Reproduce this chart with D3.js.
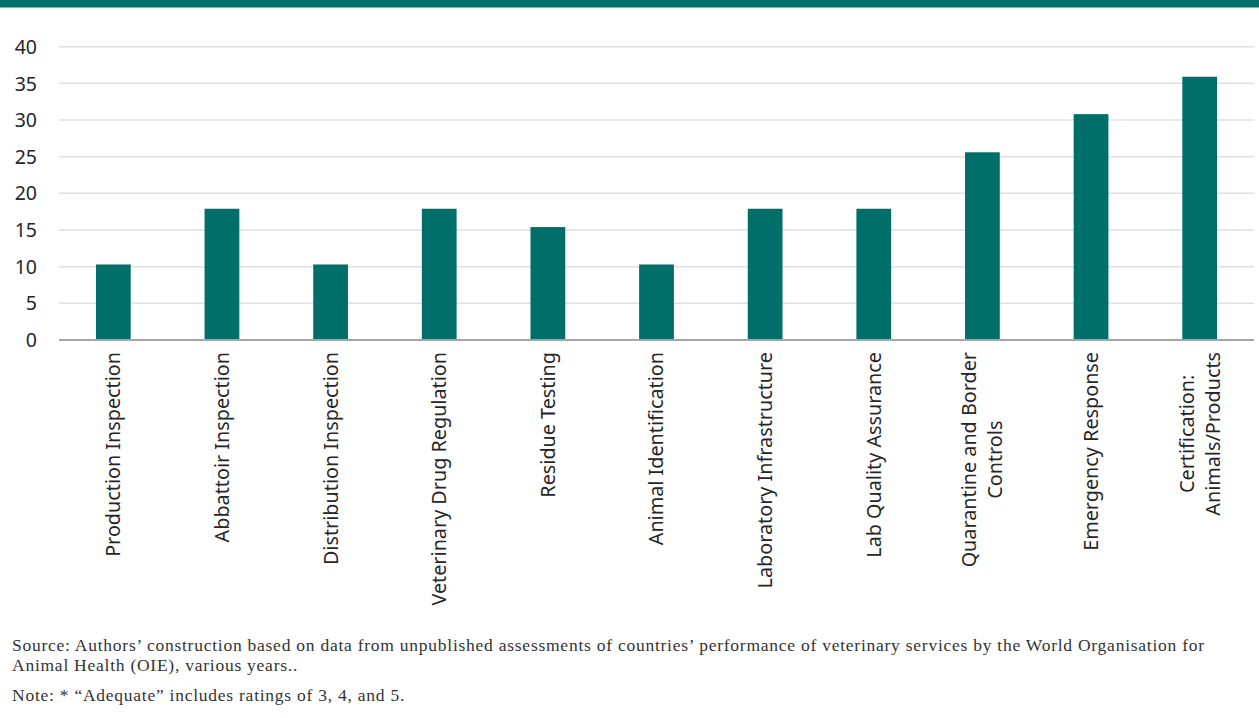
<!DOCTYPE html>
<html>
<head>
<meta charset="utf-8">
<script src="https://cdn.jsdelivr.net/npm/d3@7"></script>
<style>
  html, body { margin: 0; padding: 0; background: #fff; }
  svg { display: block; }
</style>
</head>
<body>
<svg id="chart" width="1259" height="718"></svg>
<script>
// Categories, one line per entry (multi-line labels split on "\n")
const categories = [
  "Production Inspection",
  "Abbattoir Inspection",
  "Distribution Inspection",
  "Veterinary Drug Regulation",
  "Residue Testing",
  "Animal Identification",
  "Laboratory Infrastructure",
  "Lab Quality Assurance",
  "Quarantine and Border\nControls",
  "Emergency Response",
  "Certification:\nAnimals/Products"
];

// Share of countries rated adequate (%)
const values = [10.3, 17.9, 10.3, 17.9, 15.4, 10.3, 17.9, 17.9, 25.6, 30.8, 35.9];

const yTicks = [0, 5, 10, 15, 20, 25, 30, 35, 40];

const sourceLines = [
  "Source: Authors\u2019 construction based on data from unpublished assessments of countries\u2019 performance of veterinary services by the World Organisation for",
  "Animal Health (OIE), various years.."
];
const noteLine = "Note: * \u201cAdequate\u201d includes ratings of 3, 4, and 5.";

const teal = "#006e69";
const svg = d3.select("#chart");
const W = 1259;

// Top band
svg.append("rect").attr("x", 0).attr("y", 0).attr("width", W).attr("height", 7.5).attr("fill", teal);

const plot = { left: 59, right: 1254, top: 46.7, bottom: 340 };

const x = d3.scaleBand()
  .domain(categories)
  .range([plot.left, plot.right])
  .paddingInner(0.68)
  .paddingOuter(0.34);

const y = d3.scaleLinear().domain([0, 40]).range([plot.bottom, plot.top]);

// Gridlines
svg.append("g")
  .selectAll("line")
  .data(yTicks.filter(d => d > 0))
  .join("line")
  .attr("x1", plot.left).attr("x2", plot.right)
  .attr("y1", d => y(d)).attr("y2", d => y(d))
  .attr("stroke", "#e0e0e0").attr("stroke-width", 1.5);

// Y axis labels
const yAxis = d3.axisLeft(y).tickValues(yTicks).tickSize(0).tickPadding(0);
const yg = svg.append("g").attr("transform", `translate(${37},0)`).call(yAxis);
yg.select(".domain").remove();
yg.selectAll("text")
  .attr("font-family", "'Noto Sans', 'Open Sans', sans-serif")
  .attr("font-size", 19.5)
  .attr("fill", "#262626")
  .attr("dy", "0.34em");

// Bars
svg.append("g")
  .selectAll("rect")
  .data(values)
  .join("rect")
  .attr("x", (d, i) => x(categories[i]))
  .attr("width", x.bandwidth())
  .attr("y", d => y(d))
  .attr("height", d => y(0) - y(d))
  .attr("fill", teal);

// Baseline
svg.append("line")
  .attr("x1", plot.left).attr("x2", plot.right)
  .attr("y1", y(0)).attr("y2", y(0))
  .attr("stroke", "#a6a6a6").attr("stroke-width", 2);

// Category labels, rotated, top-aligned under the axis
const labelFont = "'Noto Sans', 'Open Sans', sans-serif";
const labelSize = 19.8;
const lineGap = 26;
const labelTop = 352;
const lg = svg.append("g");
categories.forEach((c, i) => {
  const lines = c.split("\n");
  const cx = x(c) + x.bandwidth() / 2;
  const g = lg.append("g");
  const texts = lines.map((ln, k) => g.append("text")
    .attr("font-family", labelFont)
    .attr("font-size", labelSize)
    .attr("fill", "#262626")
    .text(ln));
  const widths = texts.map(t => t.node().getComputedTextLength());
  const maxW = d3.max(widths);
  const n = lines.length;
  texts.forEach((t, k) => {
    const lx = cx + (k - (n - 1) / 2) * lineGap;
    const ly = labelTop + maxW / 2;
    t.attr("text-anchor", "middle")
     .attr("dy", "0.35em")
     .attr("transform", `translate(${lx},${ly}) rotate(-90)`);
  });
});

// Footnotes
const noteFont = "'Liberation Serif', 'DejaVu Serif', serif";
const fg = svg.append("g")
  .attr("font-family", noteFont)
  .attr("font-size", 17.5)
  .attr("letter-spacing", 0.75)
  .attr("fill", "#333");
sourceLines.forEach((s, i) => {
  fg.append("text").attr("x", 12).attr("y", 651 + i * 19.5).text(s);
});
fg.append("text").attr("x", 12).attr("y", 701).text(noteLine);
</script>
</body>
</html>
